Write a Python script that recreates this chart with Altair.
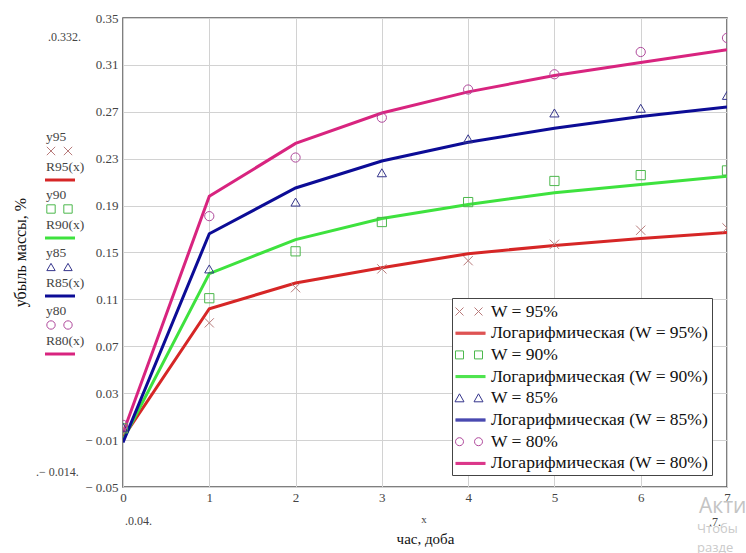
import altair as alt
import pandas as pd

# ---------------- data ----------------
x_days = [0, 1, 2, 3, 4, 5, 6, 7]

y95 = [0.000, 0.090, 0.120, 0.136, 0.143, 0.157, 0.169, 0.171]
R95 = [-0.008, 0.102, 0.124, 0.137, 0.149, 0.156, 0.162, 0.167]
y90 = [0.000, 0.111, 0.151, 0.176, 0.193, 0.211, 0.216, 0.220]
R90 = [-0.010, 0.132, 0.161, 0.179, 0.191, 0.201, 0.208, 0.215]
y85 = [0.001, 0.136, 0.193, 0.218, 0.247, 0.269, 0.273, 0.284]
R85 = [-0.012, 0.166, 0.205, 0.228, 0.244, 0.256, 0.266, 0.274]
y80 = [0.003, 0.181, 0.231, 0.265, 0.289, 0.302, 0.321, 0.333]
R80 = [-0.004, 0.198, 0.243, 0.269, 0.287, 0.301, 0.312, 0.323]

point_labels = ["W = 95%", "W = 90%", "W = 85%", "W = 80%"]
line_labels = ["Логарифмическая (W = 95%)", "Логарифмическая (W = 90%)",
               "Логарифмическая (W = 85%)", "Логарифмическая (W = 80%)"]
left_point_names = ["y95", "y90", "y85", "y80"]
left_line_names = ["R95(x)", "R90(x)", "R85(x)", "R80(x)"]
y_ticks = [-0.05, -0.01, 0.03, 0.07, 0.11, 0.15, 0.19, 0.23, 0.27, 0.31, 0.35]

point_series = [y95, y90, y85, y80]
line_series = [R95, R90, R85, R80]

point_colors = ["#b87a7a", "#4cb84c", "#35358c", "#b04a9c"]
line_colors = ["#d62626", "#3ee23e", "#0c0c96", "#d8247f"]
SHAPE_X = "M-1,-1L1,1M-1,1L1,-1"
point_shapes = [SHAPE_X, "square", "triangle-up", "circle"]

# ---------------- tables ----------------
pts_rows, line_rows = [], []
for lab, ser in zip(point_labels, point_series):
    for xv, yv in zip(x_days, ser):
        pts_rows.append({"label": lab, "x": xv, "y": yv})
for lab, ser in zip(line_labels, line_series):
    for xv, yv in zip(x_days, ser):
        line_rows.append({"label": lab, "x": xv, "y": yv})
df_pts = pd.DataFrame(pts_rows)
df_lines = pd.DataFrame(line_rows)

legend_order, legend_colors = [], []
for i in range(4):
    legend_order += [point_labels[i], line_labels[i]]
    legend_colors += [point_colors[i], line_colors[i]]

# custom legend symbols (doubled markers like Mathcad)
P_CROSS = "M-1,-0.4L-0.2,0.4M-1,0.4L-0.2,-0.4M0.9,-0.4L1.7,0.4M0.9,0.4L1.7,-0.4"
P_SQUARE = "M-1,-0.4H-0.2V0.4H-1Z M0.9,-0.4H1.7V0.4H0.9Z"
P_TRI = "M-0.6,-0.45L-0.15,0.35L-1.05,0.35Z M1.3,-0.45L1.75,0.35L0.85,0.35Z"
P_CIRC = ("M-0.2,0A0.4,0.4 0 1,1 -1,0A0.4,0.4 0 1,1 -0.2,0Z "
          "M1.7,0A0.4,0.4 0 1,1 0.9,0A0.4,0.4 0 1,1 1.7,0Z")
P_LINE = "M-1,-0.1H2M-1,0H2M-1,0.1H2"
legend_paths = [P_CROSS, P_LINE, P_SQUARE, P_LINE, P_TRI, P_LINE, P_CIRC, P_LINE]

SERIF = "Liberation Serif, Times New Roman, DejaVu Serif, serif"
LEFT, TOP, W, H = 123, 18, 604, 469

x_axis = alt.Axis(values=x_days, format="d", grid=True, gridColor="#d2d2d2", domain=False, ticks=False,
                  labelFont=SERIF, labelFontSize=13, labelColor="#444", labelPadding=4,
                  labelFlush=False,
                  title="час, доба", titleFont=SERIF, titleFontSize=15, titleFontWeight="normal",
                  titleColor="#111", titleY=44, titleBaseline="top")
y_axis = alt.Axis(values=y_ticks, grid=True, gridColor="#d2d2d2", domain=False, ticks=False,
                  labelFont=SERIF, labelFontSize=13, labelColor="#444", labelPadding=5,
                  labelFlush=False,
                  labelExpr="datum.value < 0 ? '\u2212 ' + format(abs(datum.value), '.2f') : format(datum.value, '.2f')",
                  title="убыль массы, %", titleFont=SERIF, titleFontSize=16, titleFontWeight="normal",
                  titleColor="#111", titleX=20 - LEFT, titleY=252 - TOP, titleAngle=-90,
                  titleAlign="center", titleBaseline="middle")

X = alt.X("x:Q", scale=alt.Scale(domain=[0, 7], nice=False, zero=False), axis=x_axis)
Y = alt.Y("y:Q", scale=alt.Scale(domain=[-0.05, 0.35], nice=False, zero=False), axis=y_axis)

lines = alt.Chart(df_lines).mark_line(strokeWidth=3, clip=True).encode(
    x=X, y=Y,
    color=alt.Color("label:N", scale=alt.Scale(domain=line_labels, range=line_colors), legend=None),
    order="x:Q")

point_layers = []
for lab, shp, col in zip(point_labels, point_shapes, point_colors):
    point_layers.append(
        alt.Chart(df_pts[df_pts["label"] == lab]).mark_point(
            shape=shp, filled=False, size=85, strokeWidth=1, opacity=1, clip=True, color=col
        ).encode(x="x:Q", y="y:Q")
    )

legend = alt.Legend(
    title=None, orient="none", legendX=452 - LEFT, legendY=298 - TOP,
    strokeColor="#444", fillColor="white", padding=3,
    labelFont=SERIF, labelFontSize=17.5, labelColor="#111", labelOffset=15, labelLimit=400,
    symbolSize=400, rowPadding=2.7, symbolStrokeWidth=1, symbolFillColor="transparent",
)
df_leg = pd.DataFrame({"series": legend_order, "x": [0] * 8, "y": [1.0] * 8})
dummy = alt.Chart(df_leg).mark_point(filled=False, strokeWidth=1, opacity=1, clip=True).encode(
    x="x:Q", y="y:Q",
    color=alt.Color("series:N", scale=alt.Scale(domain=legend_order, range=legend_colors), legend=legend),
    shape=alt.Shape("series:N", scale=alt.Scale(domain=legend_order, range=legend_paths), legend=legend),
)

# ---------------- annotations (Mathcad labels) ----------------
one = pd.DataFrame({"a": [0]})


def txt(s, px, py, size=13.5, color="#444", font=SERIF, align="left", baseline="middle"):
    return alt.Chart(one).mark_text(
        font=font, fontSize=size, color=color, align=align, baseline=baseline
    ).encode(x=alt.value(px - LEFT), y=alt.value(py - TOP), text=alt.value(s))


ann = []
for i in range(4):
    gy = 137 + 58 * i
    ann.append(txt(left_point_names[i], 46, gy))
    for mx in (51, 68):
        ann.append(alt.Chart(one).mark_point(
            shape=point_shapes[i], filled=False, size=70, strokeWidth=1, color=point_colors[i], opacity=1
        ).encode(x=alt.value(mx - LEFT), y=alt.value(gy + 14 - TOP)))
    ann.append(txt(left_line_names[i], 46, gy + 30))
    ann.append(alt.Chart(one).mark_rule(strokeWidth=3, color=line_colors[i]).encode(
        x=alt.value(45 - LEFT), x2=alt.value(75 - LEFT), y=alt.value(gy + 43 - TOP)))

ann.append(txt(".0.332.", 48, 37, size=12))
ann.append(txt(".\u2212 0.014.", 36, 472, size=12))
ann.append(txt(".0.04.", 125, 521, size=12))
ann.append(txt("x", 424, 520, size=11, align="center"))
ann.append(txt(".7.", 709, 522, size=12))
ann.append(txt("Акти", 699, 507, size=21, color="#c4c4c4", font="Open Sans"))
ann.append(txt("Чтобы", 697, 529, size=13, color="#cacaca", font="Open Sans"))
ann.append(txt("разде", 697, 548, size=13, color="#cacaca", font="Open Sans"))

chart = alt.layer(lines, *point_layers, dummy, *ann).resolve_scale(
    color="independent", shape="independent"
).properties(
    width=W, height=H,
    padding={"left": LEFT, "top": TOP, "right": 746 - LEFT - W, "bottom": 553 - TOP - H},
    autosize=alt.AutoSizeParams(type="none"),
    background="white",
).configure_view(stroke="#555", strokeWidth=1.5).configure_legend(labelFont=SERIF)

chart.save("out.html", embed_options={"renderer": "svg", "actions": False})
